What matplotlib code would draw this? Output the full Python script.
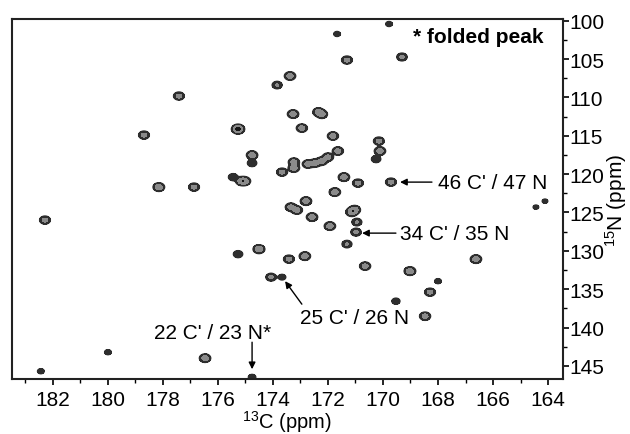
import numpy as np
import matplotlib
matplotlib.use("Agg")
import matplotlib.pyplot as plt

plt.rcParams['font.family'] = ['Liberation Sans', 'DejaVu Sans']
plt.rcParams['mathtext.fontset'] = 'custom'
plt.rcParams['mathtext.rm'] = 'Liberation Sans'
plt.rcParams['mathtext.default'] = 'regular'

# peak positions: 13C shift, 15N shift, relative height
c_shift = [173.38, 173.85, 177.42, 173.27, 172.35, 172.22, 172.95, 175.27, 178.69,
           174.76, 174.76, 173.24, 173.24, 172.73, 172.47, 172.22, 172.00, 173.67,
           175.45, 175.15, 175.02, 178.15, 176.87, 173.35, 173.13, 172.80, 172.58,
           182.29, 175.27, 174.51, 173.42, 172.84, 174.07, 173.67, 176.47, 180.00,
           182.44, 174.76, 169.78, 171.67, 171.31, 169.31, 171.82, 171.64, 170.15,
           170.11, 170.25, 171.42, 170.91, 169.71, 171.75, 171.14, 171.03, 164.44,
           164.11, 171.93, 170.95, 170.98, 171.31, 170.65, 169.02, 166.62, 168.00,
           168.29, 169.53, 168.47]
n_shift = [107.21, 108.39, 109.82, 112.17, 111.90, 112.20, 114.00, 114.13, 114.91,
           117.52, 118.56, 118.43, 119.21, 118.69, 118.56, 118.30, 117.78, 119.74,
           120.39, 120.91, 120.91, 121.69, 121.69, 124.30, 124.69, 123.52, 125.60,
           125.99, 130.43, 129.78, 131.08, 130.69, 133.43, 133.43, 143.99, 143.21,
           145.69, 146.47, 100.43, 101.73, 105.13, 104.73, 115.03, 116.99, 115.69,
           116.99, 118.04, 120.39, 121.17, 121.04, 122.34, 124.95, 124.65, 124.30,
           123.52, 126.77, 126.25, 127.56, 129.12, 131.99, 132.64, 131.08, 133.95,
           135.39, 136.56, 138.52]
height = [1.0, 0.6, 0.8, 1.0, 0.9, 0.9, 0.9, 2.2, 0.8,
          1.0, 0.5, 0.9, 1.0, 0.9, 0.9, 0.9, 0.9, 0.8,
          0.5, 1.0, 1.0, 1.1, 0.8, 0.9, 0.9, 1.0, 1.0,
          0.8, 0.5, 1.2, 0.8, 1.0, 0.7, 0.3, 1.0, 0.25,
          0.25, 0.3, 0.25, 0.25, 0.8, 0.7, 0.9, 0.9, 0.8,
          1.0, 0.5, 1.0, 0.8, 0.8, 1.0, 1.1, 1.1, 0.2,
          0.2, 1.0, 0.6, 0.7, 0.6, 0.9, 1.1, 1.0, 0.25,
          0.8, 0.35, 0.9]

c_ticks = [182, 180, 178, 176, 174, 172, 170, 168, 166, 164]
n_ticks = [100, 105, 110, 115, 120, 125, 130, 135, 140, 145]

# build the 2D spectrum from gaussian peaks
cc = np.arange(163.3, 183.7, 0.02)
nn = np.arange(99.5, 147.0, 0.05)
C, N = np.meshgrid(cc, nn)
spec = np.zeros_like(C)
for c0, n0, h in zip(c_shift, n_shift, height):
    spec += h * np.exp(-((C - c0) ** 2 / (2 * 0.1 ** 2) + (N - n0) ** 2 / (2 * 0.27 ** 2)))

fig = plt.figure(figsize=(6.3, 4.35), dpi=100)
ax = fig.add_axes([0.019, 0.126, 0.874, 0.828])

ax.contourf(C, N, spec, levels=[0.12, 0.5, 1.6, 100],
            colors=['#2e2e2e', '#8a8a8a', '#151515'])
ax.contour(C, N, spec, levels=[0.12], colors='#2e2e2e', linewidths=1.0)

ax.set_xlim(183.49, 163.47)
ax.set_ylim(146.73, 99.78)

ax.set_xticks(c_ticks)
ax.set_xticks(np.arange(164, 184, 1), minor=True)
ax.set_yticks(n_ticks)
ax.set_yticks(np.arange(100, 147, 2.5), minor=True)
ax.yaxis.tick_right()
ax.yaxis.set_label_position('right')
ax.tick_params(axis='both', which='major', direction='out', length=4, width=1.2, labelsize=15)
ax.tick_params(axis='both', which='minor', direction='out', length=3, width=1.0)
ax.tick_params(axis='x', pad=4)
ax.tick_params(axis='y', pad=1)
for s in ax.spines.values():
    s.set_linewidth(1.5)
    s.set_color('#222222')

ax.set_xlabel(r'$^{13}$C (ppm)', fontsize=14.5, labelpad=-1)
ax.set_ylabel(r'$^{15}$N (ppm)', fontsize=15, labelpad=-1)

# labels and arrows
arrow = dict(arrowstyle='-|>', color='black', lw=1.0, mutation_scale=10, shrinkA=0, shrinkB=0)
ax.text(164.18, 102.1, '* folded peak', fontsize=15, fontweight='bold', ha='right', va='center')

ax.text(168.0, 121.04, "46 C' / 47 N", fontsize=15, ha='left', va='center')
ax.annotate('', xy=(169.38, 121.04), xytext=(168.22, 121.04), arrowprops=arrow)

ax.text(169.38, 127.69, "34 C' / 35 N", fontsize=15, ha='left', va='center')
ax.annotate('', xy=(170.76, 127.69), xytext=(169.53, 127.69), arrowprops=arrow)

ax.text(171.04, 138.65, "25 C' / 26 N", fontsize=15, ha='center', va='center')
ax.annotate('', xy=(173.56, 133.95), xytext=(172.95, 136.95), arrowprops=arrow)

ax.text(176.2, 140.6, "22 C' / 23 N*", fontsize=15, ha='center', va='center')
ax.annotate('', xy=(174.76, 145.43), xytext=(174.76, 141.91), arrowprops=arrow)

fig.savefig('out.png', dpi=100)
